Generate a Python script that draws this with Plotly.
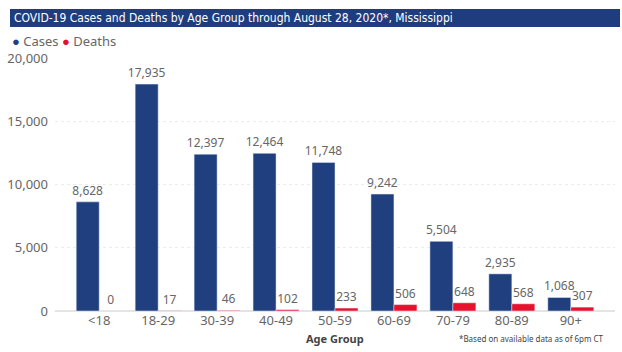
import plotly.graph_objects as go

categories = ["<18", "18-29", "30-39", "40-49", "50-59", "60-69", "70-79", "80-89", "90+"]
cases = [8628, 17935, 12397, 12464, 11748, 9242, 5504, 2935, 1068]
deaths = [0, 17, 46, 102, 233, 506, 648, 568, 307]
y_ticks = [0, 5000, 10000, 15000, 20000]
y_tick_labels = ["0", "5,000", "10,000", "15,000", "20,000"]

BLUE = "#1f3f7f"
RED = "#e8112d"
GRAY = "#666666"
FONT = "Noto Sans"

W, H = 622, 352
L, R, T, B = 55, 7, 58, 41
pw, ph = W - L - R, H - T - B

def px_x(x):
    return (x - L) / pw

def px_y(y):
    return (H - B - y) / ph

fig = go.Figure()
fig.add_trace(go.Bar(
    x=categories, y=cases, name="Cases", marker_color=BLUE,
    text=[f"{v:,}" for v in cases], textposition="outside", constraintext="none",
    textfont=dict(color=GRAY, size=12, family=FONT), cliponaxis=False,
))
fig.add_trace(go.Bar(
    x=categories, y=deaths, name="Deaths", marker_color=RED,
    text=[f"{v:,}" for v in deaths], textposition="outside", constraintext="none",
    textfont=dict(color=GRAY, size=12, family=FONT), cliponaxis=False,
))

fig.update_layout(
    width=W, height=H,
    margin=dict(l=L, r=R, t=T, b=B),
    paper_bgcolor="white", plot_bgcolor="white",
    barmode="group", bargap=0.22, bargroupgap=0,
    showlegend=False,
    font=dict(family=FONT, color=GRAY, size=12),
    xaxis=dict(
        range=[-0.75, 8.75], showgrid=False, showline=False, zeroline=False,
        tickfont=dict(size=13, color=GRAY, family=FONT), ticks="",
    ),
    yaxis=dict(
        range=[0, 20000], tickvals=y_ticks, ticktext=y_tick_labels,
        showgrid=True, gridcolor="#ececec", gridwidth=1, griddash="dot",
        zeroline=True, zerolinecolor="#e4e4e4", showline=False,
        tickfont=dict(size=13, color=GRAY, family=FONT), ticks="",
        ticklabelstandoff=6,
    ),
)

# title banner
fig.add_shape(type="rect", xref="paper", yref="paper",
              x0=px_x(10), x1=px_x(620), y0=px_y(27), y1=px_y(9),
              fillcolor="#1f3d7c", line=dict(width=0), layer="above")
fig.add_annotation(xref="paper", yref="paper", x=px_x(12), y=px_y(18),
                   xanchor="left", yanchor="middle", showarrow=False,
                   text="COVID-19 Cases and Deaths by Age Group through August 28, 2020*, Mississippi",
                   font=dict(family="DejaVu Sans Condensed", size=12, color="white"))

# legend
fig.add_annotation(xref="paper", yref="paper", x=px_x(10), y=px_y(41),
                   xanchor="left", yanchor="middle", showarrow=False,
                   text=f"<span style='color:{BLUE}'>●</span> Cases <span style='color:{RED}'>●</span> Deaths",
                   font=dict(family=FONT, size=13, color=GRAY))

# axis title
fig.add_annotation(xref="paper", yref="paper", x=px_x(335), y=px_y(338),
                   xanchor="center", yanchor="middle", showarrow=False,
                   text="<b>Age Group</b>",
                   font=dict(family=FONT, size=11, color="#444444"))

# footnote
fig.add_annotation(xref="paper", yref="paper", x=px_x(606), y=px_y(338),
                   xanchor="right", yanchor="middle", showarrow=False,
                   text="*Based on available data as of 6pm CT",
                   font=dict(family=FONT, size=8, color="#444444"))

fig.write_html("out.html")
